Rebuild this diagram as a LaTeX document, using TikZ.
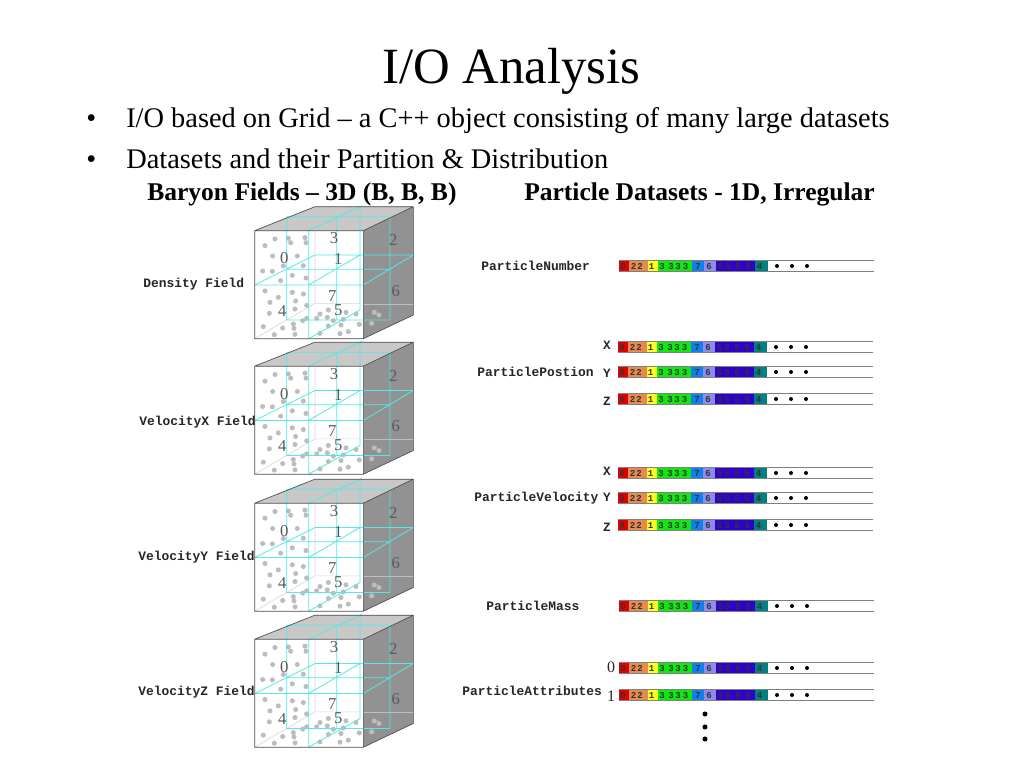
\documentclass[tikz,border=0pt]{standalone}
\usepackage{fontspec}
\setmainfont{Liberation Serif}
\setmonofont{Liberation Mono}
\definecolor{gridcyan}{HTML}{55E8E8}
\definecolor{topgrey}{HTML}{C8C8C8}
\definecolor{sidegrey}{HTML}{929292}
\definecolor{dotgrey}{HTML}{BDBDBD}
\definecolor{edgegrey}{HTML}{D8D8D8}
\definecolor{barline}{HTML}{808080}
\definecolor{sred}{HTML}{E00000}
\definecolor{sorange}{HTML}{E88A50}
\definecolor{syellow}{HTML}{FFFF20}
\definecolor{sgreen}{HTML}{10E810}
\definecolor{sblue}{HTML}{1080F0}
\definecolor{speri}{HTML}{8C8CF0}
\definecolor{sindigo}{HTML}{3000D0}
\definecolor{steal}{HTML}{008080}
\tikzset{
  titletext/.style={font=\fontsize{38.1pt}{40pt}\selectfont,anchor=base,inner sep=0pt},
  bullettext/.style={font=\fontsize{21.3pt}{23pt}\selectfont,anchor=base west,inner sep=0pt},
  headtext/.style={font=\bfseries\fontsize{19.15pt}{21pt}\selectfont,anchor=base west,inner sep=0pt},
  monolabel/.style={font=\ttfamily\bfseries\fontsize{9.7pt}{11pt}\selectfont,anchor=west,inner sep=0pt,text=black!85},
  axislabel/.style={font=\ttfamily\bfseries\fontsize{9.5pt}{11pt}\selectfont,inner sep=0pt,text=black!85},
  attrlabel/.style={font=\fontsize{12pt}{13pt}\selectfont,inner sep=0pt,text=black!85},
  cubenum/.style={font=\fontsize{12.5pt}{13pt}\selectfont,inner sep=0pt,text=black!65},
  bardigit/.style={font=\ttfamily\bfseries\fontsize{6.8pt}{7pt}\selectfont,inner sep=0pt,text=black!80},
  griddot/.style={fill=dotgrey,draw=none},
  cubegrid/.style={draw=gridcyan,line width=.6pt},
  blackdot/.style={fill=black,draw=none}
}
\newcommand{\cubepic}[1]{%
\begin{scope}[shift={(240,#1)},x=.25pt,y=-.25pt]
  \fill[topgrey] (44,92)--(225,20)--(520,20)--(370,92)--cycle;
  \fill[sidegrey] (370,92)--(520,20)--(520,345)--(370,416)--cycle;
  \fill[white] (44,92) rectangle (370,416);
  \draw[edgegrey,line width=.5pt] (225,92)--(225,310)--(360,310) (44,416)--(225,310);
  \draw[white!40!sidegrey,line width=.4pt] (370,312)--(520,312);
  \foreach \dx/\dy in {75/137,105/117,145/115,152/128,195/113,198/128,98/168,172/168,130/198,190/197,68/213,97/214,157/226,122/242,198/234,75/273,115/292,157/277,190/282,90/307,167/303,200/316,88/340,165/327,240/342,265/330,318/337,348/342,188/362,200/355,230/355,262/352,280/362,310/358,160/372,358/373,395/370,403/337,417/345,70/380,128/384,162/385,265/378,303/375,103/404,165/403,240/400,300/401,325/395}
    \fill[griddot] (\dx,\dy) circle (1.9pt);
  \draw[cubegrid] (140,50)--(450,50) (140,208)--(450,208) (140,360)--(450,360)
    (225,165)--(520,165) (44,255)--(370,255)
    (140,50)--(140,360) (290,50)--(290,360) (450,50)--(450,360)
    (206,92)--(206,416) (360,18)--(360,330)
    (44,255)--(225,165) (206,255)--(360,165) (370,255)--(520,165)
    (206,92)--(365,18) (206,416)--(360,330);
  \draw[black!70,line width=.5pt] (44,92)--(370,92)--(370,416)--(44,416)--cycle (370,92)--(520,20) (370,416)--(520,345) (44,92)--(225,20)--(520,20)--(520,345);
  \foreach \lab/\lx/\ly in {3/282/115,1/295/178,0/133/175,7/277/287,5/295/330,4/127/333,2/460/120,6/467/273}
    \node[cubenum] at (\lx,\ly) {\lab};
\end{scope}}
\newcommand{\particlebar}[2]{%
\begin{scope}[shift={(#1,#2)}]
  \draw[barline,line width=.5pt] (0,-5.3)--(255,-5.3) (0,5.3)--(255,5.3);
  \fill[sred] (0,-5) rectangle (10,5);
  \fill[sorange] (10,-5) rectangle (28.5,5);
  \fill[syellow] (28.5,-5) rectangle (38.5,5);
  \fill[sgreen] (38.5,-5) rectangle (72.5,5);
  \fill[sblue] (72.5,-5) rectangle (85.3,5);
  \fill[speri] (85.3,-5) rectangle (96.5,5);
  \fill[sindigo] (96.5,-5) rectangle (136.3,5);
  \fill[steal] (136.3,-5) rectangle (149,5);
  \foreach \dg/\px in {0/4,2/14.5,2/21,1/32.5,3/43,3/52,3/59,3/66.5,7/79,6/90,5/101.5,5/109,5/119,5/129,4/140.5}
    \node[bardigit] at (\px,0.2) {\dg};
  \foreach \px in {158,173,188} \fill[blackdot] (\px,0) circle (1.5pt);
\end{scope}}
\begin{document}
\begin{tikzpicture}[x=.75pt,y=-.75pt]
\useasboundingbox (0,0) rectangle (1024,768);
\fill[white] (0,0) rectangle (1024,768);
\node[titletext] (title) at (511.5,83) {I/O Analysis};
\node[bullettext] (b1) at (86,127) {•};
\node[bullettext] (t1) at (126,127) {I/O based on Grid – a C++ object consisting of many large datasets};
\node[bullettext] (b2) at (86,168) {•};
\node[bullettext] (t2) at (126,168) {Datasets and their Partition \& Distribution};
\node[headtext] (h1) at (147,200) {Baryon Fields – 3D (B, B, B)};
\node[headtext] (h2) at (524,200) {Particle Datasets - 1D, Irregular};
\cubepic{200}
\cubepic{335.5}
\cubepic{472.5}
\cubepic{608.5}
\node[monolabel] (f1) at (143,284) {Density Field};
\node[monolabel] (f2) at (139,422) {VelocityX Field};
\node[monolabel] (f3) at (138,557) {VelocityY Field};
\node[monolabel] (f4) at (138,692) {VelocityZ Field};
\particlebar{619}{266}
\particlebar{618}{347}
\particlebar{618}{372}
\particlebar{618}{399}
\particlebar{618}{473}
\particlebar{618}{498}
\particlebar{618}{525}
\particlebar{619}{606}
\particlebar{619}{668}
\particlebar{619}{695}
\node[monolabel] (p1) at (481,266) {ParticleNumber};
\node[monolabel] (p2) at (477,372) {ParticlePostion};
\node[monolabel] (p3) at (474,498) {ParticleVelocity};
\node[monolabel] (p4) at (486,606) {ParticleMass};
\node[monolabel] (p5) at (462,691) {ParticleAttributes};
\node[axislabel] (x1) at (607,345) {X};
\node[axislabel] (y1) at (607,373) {Y};
\node[axislabel] (z1) at (607,401) {Z};
\node[axislabel] (x2) at (607,471) {X};
\node[axislabel] (y2) at (607,497) {Y};
\node[axislabel] (z2) at (607,527) {Z};
\node[attrlabel] (a0) at (611,667) {0};
\node[attrlabel] (a1) at (611,696) {1};
\fill[blackdot] (705,714) circle (1.9pt) (705,727) circle (1.9pt) (705,739) circle (1.9pt);
\end{tikzpicture}
\end{document}
